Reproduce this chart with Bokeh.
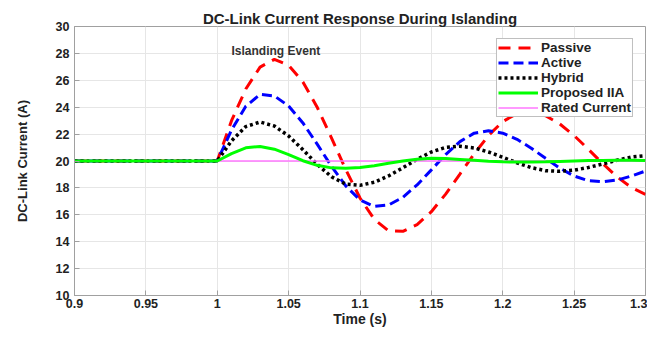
from bokeh.plotting import figure
from bokeh.models import Legend, LegendItem, FixedTicker, Label, Range1d
from bokeh.embed import file_html
from bokeh.resources import INLINE

# ---- data ----
time_s = [0.90, 1.00, 1.01, 1.02, 1.03, 1.04, 1.05, 1.06, 1.07, 1.08, 1.09, 1.10,
          1.11, 1.12, 1.13, 1.14, 1.15, 1.16, 1.17, 1.18, 1.19, 1.20, 1.21, 1.22,
          1.23, 1.24, 1.25, 1.26, 1.27, 1.28, 1.29, 1.30]
passive = [20, 20, 23.0, 25.35, 26.98, 27.56, 27.12, 25.88, 24.0, 21.72, 19.37, 17.25,
           15.66, 14.81, 14.77, 15.27, 16.23, 17.54, 19.03, 20.53, 21.89, 22.93, 23.53, 23.64,
           23.36, 22.75, 21.89, 20.87, 19.81, 18.83, 18.04, 17.52]
active = [20, 20, 22.3, 24.07, 24.95, 24.84, 24.09, 22.83, 21.25, 19.61, 18.15, 17.10,
          16.62, 16.73, 17.30, 18.22, 19.34, 20.48, 21.44, 22.07, 22.25, 22.07, 21.61, 20.95,
          20.20, 19.47, 18.88, 18.53, 18.46, 18.58, 18.88, 19.25]
hybrid = [20, 20, 21.5, 22.56, 22.9, 22.60, 21.86, 20.84, 19.75, 18.83, 18.28, 18.19,
          18.42, 18.89, 19.49, 20.13, 20.67, 21.01, 21.1, 20.97, 20.67, 20.28, 19.86, 19.51,
          19.28, 19.23, 19.32, 19.52, 19.78, 20.06, 20.29, 20.40]
proposed = [20, 20, 20.55, 20.98, 21.08, 20.88, 20.48, 20.02, 19.68, 19.49, 19.46, 19.52,
            19.65, 19.83, 20.0, 20.13, 20.2, 20.18, 20.12, 20.05, 19.98, 19.94, 19.92, 19.92,
            19.94, 19.97, 20.0, 20.03, 20.04, 20.05, 20.05, 20.04]
rated_t = [0.90, 1.30]
rated = [20, 20]
x_ticks = [0.9, 0.95, 1.0, 1.05, 1.1, 1.15, 1.2, 1.25, 1.3]
x_tick_labels = {0.9: "0.9", 0.95: "0.95", 1.0: "1", 1.05: "1.05", 1.1: "1.1",
                 1.15: "1.15", 1.2: "1.2", 1.25: "1.25", 1.3: "1.3"}
y_ticks = [10, 12, 14, 16, 18, 20, 22, 24, 26, 28, 30]

FONT = "Liberation Sans"

p = figure(width=647, height=329, output_backend="svg", toolbar_location=None,
           x_range=Range1d(0.9, 1.3), y_range=Range1d(10, 30),
           min_border_left=74, min_border_right=2, min_border_top=26, min_border_bottom=31)

p.title.text = "DC-Link Current Response During Islanding"
p.title.align = "center"
p.title.text_font = FONT
p.title.text_font_size = "15px"
p.title.text_font_style = "bold"
p.title.text_color = "#222222"
p.title.standoff = 0
p.title.offset = 0

p.outline_line_color = "#a0a0a0"
p.outline_line_width = 1

for ax in (p.xaxis[0], p.yaxis[0]):
    ax.axis_line_color = "#a0a0a0"
    ax.major_tick_line_color = "#a0a0a0"
    ax.major_tick_in = 5
    ax.major_tick_out = 0
    ax.minor_tick_line_color = None
    ax.major_label_text_font = FONT
    ax.major_label_text_font_style = "bold"
    ax.major_label_text_font_size = "12.5px"
    ax.major_label_text_color = "#222222"
    ax.axis_label_text_font = FONT
    ax.axis_label_text_font_style = "bold"
    ax.axis_label_text_color = "#222222"

p.xaxis.ticker = FixedTicker(ticks=x_ticks)
p.xaxis.major_label_overrides = x_tick_labels
p.xaxis.axis_label = "Time (s)"
p.xaxis.axis_label_text_font_size = "14px"
p.xaxis.major_label_standoff = 3
p.xaxis.axis_label_standoff = 0
p.yaxis.ticker = FixedTicker(ticks=y_ticks)
p.yaxis.axis_label = "DC-Link Current (A)"
p.yaxis.axis_label_text_font_size = "13px"
p.yaxis.major_label_standoff = 5
p.yaxis.axis_label_standoff = 23

p.xgrid.grid_line_color = "#e6e6e6"
p.ygrid.grid_line_color = "#e6e6e6"
p.xgrid.ticker = FixedTicker(ticks=x_ticks)
p.ygrid.ticker = FixedTicker(ticks=y_ticks)

r_pas = p.line(time_s, passive, line_color="#ff0000", line_width=3, line_dash="12 8")
r_act = p.line(time_s, active, line_color="#0000ff", line_width=3, line_dash="10 5")
r_hyb = p.line(time_s, hybrid, line_color="#000000", line_width=3.5, line_dash="3 3")
r_rat = p.line(rated_t, rated, line_color="#ff77ff", line_width=1.5)
r_pro = p.line(time_s, proposed, line_color="#00ff00", line_width=3)

p.add_layout(Label(x=1.01, y=28.2, text="Islanding Event", text_font=FONT,
                   text_font_style="bold", text_font_size="12px",
                   text_color="#333333", text_baseline="middle"))

legend = Legend(items=[
    LegendItem(label="Passive", renderers=[r_pas]),
    LegendItem(label="Active", renderers=[r_act]),
    LegendItem(label="Hybrid", renderers=[r_hyb]),
    LegendItem(label="Proposed IIA", renderers=[r_pro]),
    LegendItem(label="Rated Current", renderers=[r_rat]),
], location="top_right")
legend.margin = 12
legend.padding = 1
legend.spacing = 0
legend.glyph_width = 40
legend.glyph_height = 13
legend.label_height = 14
legend.label_standoff = 3
legend.label_text_font = FONT
legend.label_text_font_style = "bold"
legend.label_text_font_size = "13.5px"
legend.label_text_color = "#222222"
legend.border_line_color = "#808080"
legend.border_line_width = 1
legend.background_fill_alpha = 1
p.add_layout(legend, "center")

open("out.html", "w").write(file_html(p, INLINE))
